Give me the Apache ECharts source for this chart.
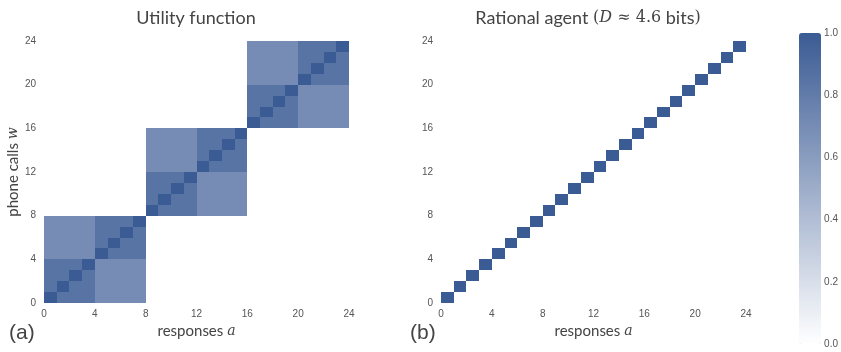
<!DOCTYPE html>
<html>
<head>
<meta charset="utf-8">
<script src="https://cdn.jsdelivr.net/npm/echarts@6/dist/echarts.min.js"></script>
<style>
html,body{margin:0;padding:0;background:#fff;}
#main{width:841px;height:352px;}
</style>
</head>
<body>
<div id="main"></div>
<script>
// 效用矩阵 U(w,a)，行 = phone calls w (0..23)，列 = responses a (0..23)
var utility = [
	[1,.85,.85,.85,.7,.7,.7,.7, 0,0,0,0,0,0,0,0, 0,0,0,0,0,0,0,0],
	[.85,1,.85,.85,.7,.7,.7,.7, 0,0,0,0,0,0,0,0, 0,0,0,0,0,0,0,0],
	[.85,.85,1,.85,.7,.7,.7,.7, 0,0,0,0,0,0,0,0, 0,0,0,0,0,0,0,0],
	[.85,.85,.85,1,.7,.7,.7,.7, 0,0,0,0,0,0,0,0, 0,0,0,0,0,0,0,0],
	[.7,.7,.7,.7,1,.85,.85,.85, 0,0,0,0,0,0,0,0, 0,0,0,0,0,0,0,0],
	[.7,.7,.7,.7,.85,1,.85,.85, 0,0,0,0,0,0,0,0, 0,0,0,0,0,0,0,0],
	[.7,.7,.7,.7,.85,.85,1,.85, 0,0,0,0,0,0,0,0, 0,0,0,0,0,0,0,0],
	[.7,.7,.7,.7,.85,.85,.85,1, 0,0,0,0,0,0,0,0, 0,0,0,0,0,0,0,0],
	[0,0,0,0,0,0,0,0, 1,.85,.85,.85,.7,.7,.7,.7, 0,0,0,0,0,0,0,0],
	[0,0,0,0,0,0,0,0, .85,1,.85,.85,.7,.7,.7,.7, 0,0,0,0,0,0,0,0],
	[0,0,0,0,0,0,0,0, .85,.85,1,.85,.7,.7,.7,.7, 0,0,0,0,0,0,0,0],
	[0,0,0,0,0,0,0,0, .85,.85,.85,1,.7,.7,.7,.7, 0,0,0,0,0,0,0,0],
	[0,0,0,0,0,0,0,0, .7,.7,.7,.7,1,.85,.85,.85, 0,0,0,0,0,0,0,0],
	[0,0,0,0,0,0,0,0, .7,.7,.7,.7,.85,1,.85,.85, 0,0,0,0,0,0,0,0],
	[0,0,0,0,0,0,0,0, .7,.7,.7,.7,.85,.85,1,.85, 0,0,0,0,0,0,0,0],
	[0,0,0,0,0,0,0,0, .7,.7,.7,.7,.85,.85,.85,1, 0,0,0,0,0,0,0,0],
	[0,0,0,0,0,0,0,0, 0,0,0,0,0,0,0,0, 1,.85,.85,.85,.7,.7,.7,.7],
	[0,0,0,0,0,0,0,0, 0,0,0,0,0,0,0,0, .85,1,.85,.85,.7,.7,.7,.7],
	[0,0,0,0,0,0,0,0, 0,0,0,0,0,0,0,0, .85,.85,1,.85,.7,.7,.7,.7],
	[0,0,0,0,0,0,0,0, 0,0,0,0,0,0,0,0, .85,.85,.85,1,.7,.7,.7,.7],
	[0,0,0,0,0,0,0,0, 0,0,0,0,0,0,0,0, .7,.7,.7,.7,1,.85,.85,.85],
	[0,0,0,0,0,0,0,0, 0,0,0,0,0,0,0,0, .7,.7,.7,.7,.85,1,.85,.85],
	[0,0,0,0,0,0,0,0, 0,0,0,0,0,0,0,0, .7,.7,.7,.7,.85,.85,1,.85],
	[0,0,0,0,0,0,0,0, 0,0,0,0,0,0,0,0, .7,.7,.7,.7,.85,.85,.85,1]
];

// 理性智能体 p(a|w)：[a, w, p]
var rational = [
	[0,0,1],[1,1,1],[2,2,1],[3,3,1],[4,4,1],[5,5,1],[6,6,1],[7,7,1],
	[8,8,1],[9,9,1],[10,10,1],[11,11,1],[12,12,1],[13,13,1],[14,14,1],[15,15,1],
	[16,16,1],[17,17,1],[18,18,1],[19,19,1],[20,20,1],[21,21,1],[22,22,1],[23,23,1]
];

var axisTicks = {min: 0, max: 24, interval: 4};
var colorbarTicks = {min: 0, max: 1, interval: 0.2};

var utilityData = [];
for (var w = 0; w < utility.length; w++) {
	for (var a = 0; a < utility[w].length; a++) {
		if (utility[w][a] > 0) utilityData.push([a, w, utility[w][a]]);
	}
}

var labelStyle = {color: '#555', fontSize: 10, fontFamily: 'Liberation Sans'};
var nameRich = {
	n: {fontFamily: 'Lato', fontSize: 15, color: '#444'},
	m: {fontFamily: 'DejaVu Serif', fontStyle: 'italic', fontSize: 14, color: '#444'}
};

// 每个格子画成整像素对齐的矩形，避免缝隙
function renderCell(params, api) {
	var a = api.value(0), w = api.value(1);
	var p0 = api.coord([a, w]);
	var p1 = api.coord([a + 1, w + 1]);
	var x0 = Math.round(p0[0]), x1 = Math.round(p1[0]);
	var y0 = Math.round(p1[1]), y1 = Math.round(p0[1]);
	return {
		type: 'rect',
		shape: {x: x0, y: y0, width: x1 - x0, height: y1 - y0},
		style: {fill: api.visual('color')}
	};
}

function valAxis(grid, pos, name, gap) {
	return {
		type: 'value', gridIndex: grid, position: pos,
		min: axisTicks.min, max: axisTicks.max, interval: axisTicks.interval,
		splitLine: {show: false},
		axisLine: {show: false},
		axisTick: {show: false},
		axisLabel: Object.assign({margin: pos === 'bottom' ? 6 : 8}, labelStyle),
		name: name, nameLocation: 'middle', nameGap: gap,
		nameTextStyle: {rich: nameRich}
	};
}

var option = {
	backgroundColor: '#fff',
	animation: false,
	title: [
		{text: 'Utility function', left: 191, top: 4, textAlign: 'center',
			textStyle: {fontFamily: 'Lato', fontSize: 18, fontWeight: 'normal', color: '#444'}},
		{text: '{t|Rational agent }{s|(}{m|D}{s| ≈ 4.6}{t| bits}{s|)}', left: 583, top: 4, textAlign: 'center',
			textStyle: {fontWeight: 'normal', rich: {
				t: {fontFamily: 'Lato', fontSize: 18, fontWeight: 'normal', color: '#444'},
				s: {fontFamily: 'DejaVu Serif', fontSize: 16, fontWeight: 'normal', color: '#444'},
				m: {fontFamily: 'DejaVu Serif', fontStyle: 'italic', fontSize: 16, fontWeight: 'normal', color: '#444'}
			}}},
		{text: '(a)', left: 4, top: 318, textStyle: {fontFamily: 'Liberation Sans', fontSize: 21, fontWeight: 'normal', color: '#444'}},
		{text: '(b)', left: 405, top: 318, textStyle: {fontFamily: 'Liberation Sans', fontSize: 21, fontWeight: 'normal', color: '#444'}}
	],
	grid: [
		{left: 44, top: 41, width: 305, height: 262},
		{left: 441, top: 41, width: 305, height: 262},
		{left: 799, top: 33, width: 22, height: 311}
	],
	xAxis: [
		valAxis(0, 'bottom', '{n|responses }{m|a}', 20),
		valAxis(1, 'bottom', '{n|responses }{m|a}', 20),
		{type: 'value', gridIndex: 2, show: false, min: 0, max: 1}
	],
	yAxis: [
		valAxis(0, 'left', '{n|phone calls }{m|w}', 22),
		valAxis(1, 'left', '', 20),
		{
			type: 'value', gridIndex: 2, position: 'right',
			min: colorbarTicks.min, max: colorbarTicks.max, interval: colorbarTicks.interval,
			splitLine: {show: false}, axisLine: {show: false}, axisTick: {show: false},
			axisLabel: Object.assign({margin: 7, formatter: function(v){return v.toFixed(1);}}, labelStyle)
		}
	],
	visualMap: {
		type: 'continuous', min: 0, max: 1, seriesIndex: [0, 1], dimension: 2,
		calculable: false, text: null, padding: 0,
		orient: 'vertical', left: 799, top: 33, itemWidth: 22, itemHeight: 311,
		inRange: {color: ['#ffffff', '#3b5b94']}
	},
	series: [
		{
			type: 'custom', xAxisIndex: 0, yAxisIndex: 0,
			renderItem: renderCell,
			encode: {x: 0, y: 1},
			data: utilityData
		},
		{
			type: 'custom', xAxisIndex: 1, yAxisIndex: 1,
			renderItem: renderCell,
			encode: {x: 0, y: 1},
			data: rational
		}
	]
};

var myChart = echarts.init(document.getElementById('main'));
myChart.setOption(option);
</script>
</body>
</html>
